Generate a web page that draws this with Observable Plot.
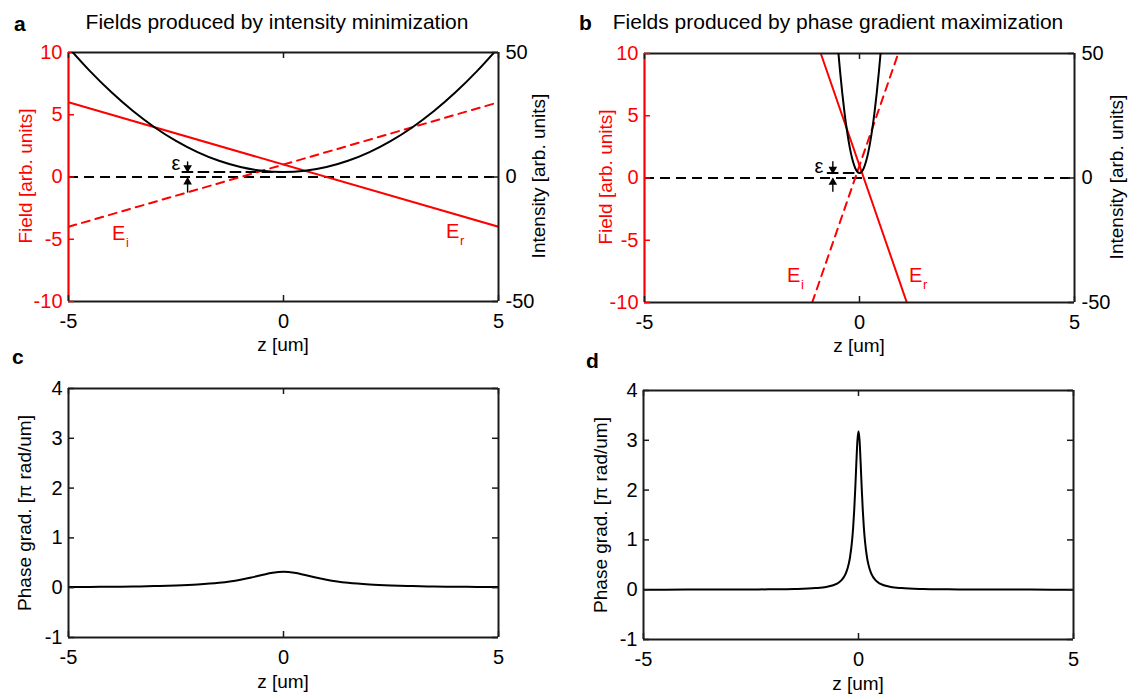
<!DOCTYPE html>
<html><head><meta charset="utf-8">
<script src="https://cdn.jsdelivr.net/npm/d3@7"></script>
<script src="https://cdn.jsdelivr.net/npm/@observablehq/plot@0.6"></script>
<style>
body{margin:0;background:#fff;}
#fig{position:relative;width:1131px;height:697px;overflow:hidden;background:#fff;}
#fig svg{position:absolute;left:0;top:0;}
</style></head><body><div id="fig"></div>
<script>
// ---------- data ----------
const zTicks = [-5, 0, 5];
const fieldTicks = [-10, -5, 0, 5, 10];
const intensityTicks = [-50, 0, 50];
const phaseTicks = [-1, 0, 1, 2, 3, 4];

// panel a fields
const zLineA = [-5, 5];
const ErA = [6, -4];
const EiA = [-4, 6];
// panel a intensity
const zIntA = [-5,-4.5,-4,-3.5,-3,-2.5,-2,-1.5,-1,-0.5,0,0.5,1,1.5,2,2.5,3,3.5,4,4.5,5];
const intA = [52,42.5,34,26.5,20,14.5,10,6.5,4,2.5,2,2.5,4,6.5,10,14.5,20,26.5,34,42.5,52];

// panel b fields
const zErB = [-0.9, 1.1];
const ErB = [10, -10];
const zEiB = [-1.1, 0.9];
const EiB = [-10, 10];
// panel b intensity
const zIntB = [-0.5,-0.45,-0.4,-0.35,-0.3,-0.25,-0.2,-0.15,-0.1,-0.05,0,0.05,0.1,0.15,0.2,0.25,0.3,0.35,0.4,0.45,0.5];
const intB = [52,42.5,34,26.5,20,14.5,10,6.5,4,2.5,2,2.5,4,6.5,10,14.5,20,26.5,34,42.5,52];

// panel c phase gradient
const zGradC = [-5,-4.5,-4,-3.5,-3,-2.5,-2,-1.5,-1.25,-1,-0.75,-0.5,-0.25,0,0.25,0.5,0.75,1,1.25,1.5,2,2.5,3,3.5,4,4.5,5];
const gradC = [0.012,0.015,0.019,0.024,0.032,0.044,0.064,0.098,0.124,0.159,0.204,0.255,0.300,0.318,0.300,0.255,0.204,0.159,0.124,0.098,0.064,0.044,0.032,0.024,0.019,0.015,0.012];

// panel d phase gradient
const zGradD = [-5,-4,-3,-2,-1.5,-1,-0.75,-0.5,-0.4,-0.3,-0.25,-0.2,-0.15,-0.125,-0.1,-0.075,-0.05,-0.025,0,0.025,0.05,0.075,0.1,0.125,0.15,0.2,0.25,0.3,0.4,0.5,0.75,1,1.5,2,3,4,5];
const gradD = [0.001,0.002,0.004,0.008,0.014,0.032,0.056,0.122,0.187,0.318,0.439,0.637,0.979,1.242,1.592,2.037,2.546,2.996,3.183,2.996,2.546,2.037,1.592,1.242,0.979,0.637,0.439,0.318,0.187,0.122,0.056,0.032,0.014,0.008,0.004,0.002,0.001];

// epsilon annotations (z position, minimum level in field units)
const epsZ = {a: -2.23, b: -0.62};
const epsSegA = [-2.35, 0];
const epsSegB = [-0.74, 0];
const epsLevel = 0.4;
// arrow shafts (from, tip) in field units
const epsArrowA = [[1.25, 0.45], [-1.25, -0.1]];
const epsArrowB = [[1.35, 0.4], [-1.1, -0.05]];

// ---------- helpers ----------
const W = 1131, H = 697;
const FF = '"Liberation Sans", Arial, Helvetica, sans-serif';
const RED = "#ff0000", AX = "#1a1a1a";
const TICKFS = 20;
const fmt = d => String(d);
const rows = (xs, ys) => xs.map((x, i) => ({x, y: ys[i]}));
const box = (b) => ({width: W, height: H, marginLeft: b.l, marginTop: b.t,
  marginRight: W - b.l - b.w, marginBottom: H - b.t - b.h});
const style = {background: "transparent", fontFamily: FF, fontSize: TICKFS + "px", color: "#000"};

const PA = {l: 68, t: 52, w: 430, h: 249};
const PB = {l: 644, t: 53, w: 430, h: 249};
const PC = {l: 68, t: 388, w: 430, h: 249};
const PD = {l: 643, t: 390, w: 430, h: 249};

const fig = document.getElementById("fig");

function xTicks(P) {
  return [
    Plot.ruleX(zTicks, {insetTop: P.h - 6, stroke: AX, strokeWidth: 1.5}),
    Plot.ruleX(zTicks, {insetBottom: P.h - 6, stroke: AX, strokeWidth: 1.5}),
    Plot.axisX(zTicks, {anchor: "bottom", tickSize: 0, tickPadding: 12, tickFormat: fmt, label: null, fill: "#000", fontSize: TICKFS})
  ];
}

function epsMarks(z, seg, arr) {
  const shafts = arr.map(([a, b]) => ({x: z, y1: a, y2: b}));
  const heads = [
    {x: z, y: arr[0][1] + 0.3, r: 180},
    {x: z, y: arr[1][1] - 0.3, r: 0}
  ];
  return [
    Plot.line(rows(seg, [epsLevel, epsLevel]), {x: "x", y: "y", stroke: "#000", strokeWidth: 2, strokeDasharray: "10,6"}),
    Plot.link(shafts, {x1: "x", x2: "x", y1: "y1", y2: "y2", stroke: "#000", strokeWidth: 1.4}),
    Plot.dot(heads, {x: "x", y: "y", rotate: "r", symbol: "triangle", r: 3.2, fill: "#000", stroke: "none"})
  ];
}

function fieldPanel(P, erZ, er, eiZ, ei, z, seg, arr) {
  return Plot.plot({
    ...box(P), style,
    x: {domain: [-5, 5]}, y: {domain: [-10, 10]},
    marks: [
      Plot.ruleY([0], {stroke: "#000", strokeWidth: 2, strokeDasharray: "10,6"}),
      ...epsMarks(z, seg, arr),
      Plot.line(rows(erZ, er), {x: "x", y: "y", stroke: RED, strokeWidth: 2, clip: true}),
      Plot.line(rows(eiZ, ei), {x: "x", y: "y", stroke: RED, strokeWidth: 2, strokeDasharray: "8,6", clip: true}),
      Plot.ruleY([-10, 10], {stroke: AX, strokeWidth: 2}),
      Plot.ruleX([5], {stroke: AX, strokeWidth: 2}),
      Plot.ruleX([-5], {stroke: RED, strokeWidth: 2.2}),
      ...xTicks(P),
      Plot.ruleY(fieldTicks, {insetRight: P.w - 6, stroke: RED, strokeWidth: 1.5}),
      Plot.axisY(fieldTicks, {anchor: "left", tickSize: 0, tickPadding: 6, tickFormat: fmt, label: null, fill: RED, fontSize: TICKFS})
    ]
  });
}

function intensityPanel(P, zs, vs) {
  return Plot.plot({
    ...box(P), style,
    x: {domain: [-5, 5], axis: null}, y: {domain: [-50, 50]},
    marks: [
      Plot.line(rows(zs, vs), {x: "x", y: "y", stroke: "#000", strokeWidth: 2, curve: "monotone-x", clip: true}),
      Plot.ruleY(intensityTicks, {insetLeft: P.w - 6, stroke: AX, strokeWidth: 1.5}),
      Plot.axisY(intensityTicks, {anchor: "right", tickSize: 0, tickPadding: 7, tickFormat: fmt, label: null, fill: "#000", fontSize: TICKFS})
    ]
  });
}

function phasePanel(P, zs, vs) {
  return Plot.plot({
    ...box(P), style,
    x: {domain: [-5, 5]}, y: {domain: [-1, 4]},
    marks: [
      Plot.line(rows(zs, vs), {x: "x", y: "y", stroke: "#000", strokeWidth: 2, curve: "monotone-x", clip: true}),
      Plot.ruleY([-1, 4], {stroke: AX, strokeWidth: 2}),
      Plot.ruleX([-5, 5], {stroke: AX, strokeWidth: 2}),
      ...xTicks(P),
      Plot.ruleY(phaseTicks, {insetRight: P.w - 6, stroke: AX, strokeWidth: 1.5}),
      Plot.ruleY(phaseTicks, {insetLeft: P.w - 6, stroke: AX, strokeWidth: 1.5}),
      Plot.axisY(phaseTicks, {anchor: "left", tickSize: 0, tickPadding: 6, tickFormat: fmt, label: null, fill: "#000", fontSize: TICKFS})
    ]
  });
}

fig.append(fieldPanel(PA, zLineA, ErA, zLineA, EiA, epsZ.a, epsSegA, epsArrowA));
fig.append(intensityPanel(PA, zIntA, intA));
fig.append(fieldPanel(PB, zErB, ErB, zEiB, EiB, epsZ.b, epsSegB, epsArrowB));
fig.append(intensityPanel(PB, zIntB, intB));
fig.append(phasePanel(PC, zGradC, gradC));
fig.append(phasePanel(PD, zGradD, gradD));

// ---------- text layer ----------
const svg = d3.create("svg").attr("width", W).attr("height", H)
  .style("font-family", FF);
function T(x, y, s, o = {}) {
  svg.append("text")
    .attr("transform", `translate(${x},${y})` + (o.rot ? ` rotate(${o.rot})` : ""))
    .attr("text-anchor", o.anchor || "start")
    .attr("font-size", o.size || 19)
    .attr("font-weight", o.weight || "normal")
    .attr("fill", o.fill || "#000")
    .text(s);
}
// panel letters & titles
T(14, 31, "a", {size: 21, weight: "bold"});
T(277, 29, "Fields produced by intensity minimization", {size: 21, anchor: "middle"});
T(579, 30, "b", {size: 21, weight: "bold"});
T(838, 29, "Fields produced by phase gradient maximization", {size: 21, anchor: "middle"});
T(12, 364, "c", {size: 21, weight: "bold"});
T(586, 368, "d", {size: 21, weight: "bold"});
// x labels
T(283, 351, "z [um]", {anchor: "middle"});
T(859, 352, "z [um]", {anchor: "middle"});
T(283, 688, "z [um]", {anchor: "middle"});
T(858, 690, "z [um]", {anchor: "middle"});
// y labels
T(32, 176, "Field [arb. units]", {anchor: "middle", rot: -90, fill: RED});
T(545, 176, "Intensity [arb. units]", {anchor: "middle", rot: -90});
T(612, 177, "Field [arb. units]", {anchor: "middle", rot: -90, fill: RED});
T(1123, 177, "Intensity [arb. units]", {anchor: "middle", rot: -90});
T(31, 513, "Phase grad. [π rad/um]", {anchor: "middle", rot: -90});
T(607, 515, "Phase grad. [π rad/um]", {anchor: "middle", rot: -90});
// field labels
T(112, 240, "E", {fill: RED, size: 20}); T(126, 247, "i", {fill: RED, size: 13});
T(446, 238, "E", {fill: RED, size: 20}); T(460, 245, "r", {fill: RED, size: 13});
T(787, 282, "E", {fill: RED, size: 20}); T(801, 289, "i", {fill: RED, size: 13});
T(909, 282, "E", {fill: RED, size: 20}); T(923, 289, "r", {fill: RED, size: 13});
// epsilon
T(176, 170, "ε", {anchor: "middle", size: 20});
T(819, 173, "ε", {anchor: "middle", size: 20});
fig.append(svg.node());
</script></body></html>
